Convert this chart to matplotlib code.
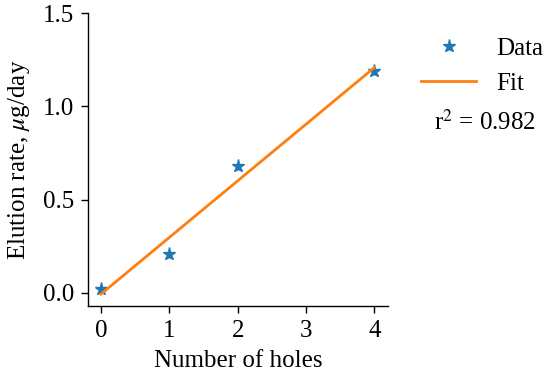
import numpy as np
import matplotlib
matplotlib.use("Agg")
import matplotlib.pyplot as plt

plt.rcParams['font.family'] = ['Liberation Serif', 'DejaVu Serif']
plt.rcParams['mathtext.fontset'] = 'stix'

# data
holes = np.array([0, 1, 2, 4])
rate = np.array([0.02, 0.21, 0.68, 1.19])
r2_text = "r$^2$ = 0.982"

slope, icpt = np.polyfit(holes, rate, 1)

fig = plt.figure(figsize=(5.5, 3.79), dpi=100)
ax = fig.add_axes([0.16, 0.1926, 0.5455, 0.773])

ax.plot(holes, rate, '*', color='#1f77b4', markersize=9.5, label='Data')
ax.plot(holes, slope * holes + icpt, '-', color='#ff7f0e', lw=2, label='Fit')

ax.set_xlim(-0.19, 4.2)
ax.set_ylim(-0.07, 1.5)
ax.set_xticks([0, 1, 2, 3, 4])
ax.set_yticks([0.0, 0.5, 1.0, 1.5])
ax.tick_params(labelsize=18, length=5, width=1, pad=5)
ax.spines['top'].set_visible(False)
ax.spines['right'].set_visible(False)
for s in ('left', 'bottom'):
    ax.spines[s].set_linewidth(1)

ax.set_xlabel("Number of holes", fontsize=18, labelpad=6)
ax.set_ylabel(r"Elution rate, $\mu$g/day", fontsize=18, labelpad=8)

fig.legend(loc='upper left', bbox_to_anchor=(0.7655, 0.902), frameon=False,
           fontsize=18, borderpad=0, borderaxespad=0, handlelength=2.2,
           handletextpad=0.8, labelspacing=0.5)
fig.text(0.882, 0.678, r2_text, fontsize=18, ha='center', va='center')

fig.savefig("out.png", dpi=100)
